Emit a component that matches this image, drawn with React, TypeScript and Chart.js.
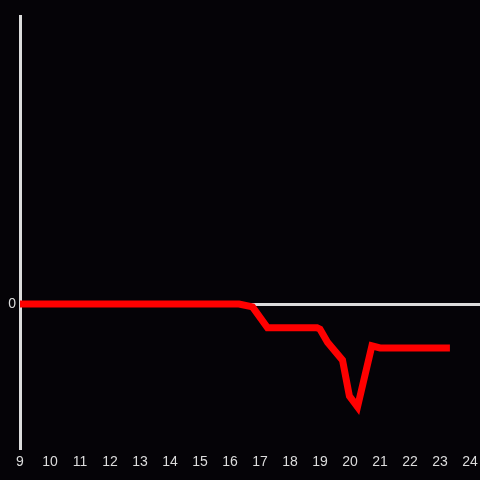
import React, { useEffect, useRef } from "react";
import { Chart, registerables } from "chart.js";

Chart.register(...registerables);

const hours: number[] = [9, 16.3, 16.75, 17.25, 18.9, 19.0, 19.25, 19.75, 19.98, 20.25, 20.73, 21.0, 23.33];
const values: number[] = [0, 0, -0.02, -0.165, -0.165, -0.175, -0.265, -0.39, -0.64, -0.715, -0.29, -0.305, -0.305];
const xTickValues: number[] = [9, 10, 11, 12, 13, 14, 15, 16, 17, 18, 19, 20, 21, 22, 23, 24];
const yTickValues: number[] = [0];
const xMin = 9;
const xMax = 24.333;
const yMin = -1;
const yMax = 2;

const BG = "#050307";
const AXIS = "#dcdcdc";

export default function App() {
  const ref = useRef<HTMLCanvasElement | null>(null);

  useEffect(() => {
    document.body.style.margin = "0";
    document.body.style.background = BG;
    const canvas = ref.current;
    if (!canvas) return;
    const bgPlugin = {
      id: "bg",
      beforeDraw(chart: any) {
        const ctx = chart.ctx;
        ctx.save();
        ctx.fillStyle = BG;
        ctx.fillRect(0, 0, chart.width, chart.height);
        ctx.restore();
      },
    };
    const chart = new Chart(canvas, {
      type: "line",
      data: {
        datasets: [
          {
            data: hours.map((h, i) => ({ x: h, y: values[i] })),
            borderColor: "#ff0000",
            borderWidth: 7,
            pointRadius: 0,
            tension: 0,
            borderCapStyle: "butt",
            fill: false,
          },
        ],
      },
      options: {
        animation: false,
        responsive: false,
        maintainAspectRatio: false,
        layout: { padding: { top: 16, right: 0, left: 0, bottom: 0 } },
        plugins: { legend: { display: false }, tooltip: { enabled: false } },
        scales: {
          x: {
            type: "linear",
            min: xMin,
            max: xMax,
            afterBuildTicks(scale: any) {
              scale.ticks = xTickValues.map((v) => ({ value: v }));
            },
            ticks: {
              color: AXIS,
              padding: 6,
              font: { family: "Liberation Sans, Arial, sans-serif", size: 14 },
              maxRotation: 0,
              autoSkip: false,
            },
            grid: { display: false, drawTicks: false },
            border: { display: false },
            afterFit(scale: any) {
              scale.height = 32;
              scale.paddingLeft = 0;
              scale.paddingRight = 0;
            },
          },
          y: {
            type: "linear",
            min: yMin,
            max: yMax,
            afterBuildTicks(scale: any) {
              scale.ticks = yTickValues.map((v) => ({ value: v }));
            },
            ticks: {
              color: AXIS,
              padding: 4,
              font: { family: "Liberation Sans, Arial, sans-serif", size: 14 },
            },
            grid: {
              drawTicks: false,
              color: (ctx: any) => (ctx.tick && ctx.tick.value === 0 ? AXIS : "rgba(0,0,0,0)"),
              lineWidth: 3,
            },
            border: { display: true, color: AXIS, width: 3 },
            afterFit(scale: any) {
              scale.width = 20;
            },
          },
        },
      },
      plugins: [bgPlugin],
    } as any);
    return () => chart.destroy();
  }, []);

  return <canvas ref={ref} width={480} height={480} style={{ display: "block", width: 480, height: 480 }} />;
}
